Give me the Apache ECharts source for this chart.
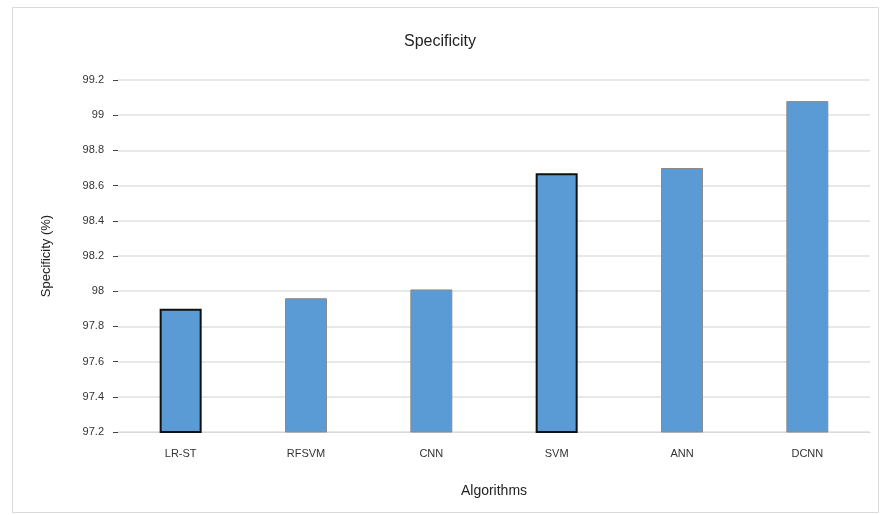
<!DOCTYPE html>
<html>
<head>
<meta charset="utf-8">
<script src="https://cdn.jsdelivr.net/npm/echarts@6/dist/echarts.min.js"></script>
<style>html,body{margin:0;padding:0;background:#fff;}#c{width:880px;height:515px;}</style>
</head>
<body>
<div id="c"></div>
<script>
var categories = ["LR-ST", "RFSVM", "CNN", "SVM", "ANN", "DCNN"];
var specificity = [97.90, 97.96, 98.01, 98.67, 98.70, 99.08];
var yTicks = { min: 97.2, max: 99.2, interval: 0.2 };
var outlined = [true, false, false, true, false, false];

var chart = echarts.init(document.getElementById('c'));
chart.setOption({
  animation: false,
  backgroundColor: '#fff',
  graphic: [{
    type: 'rect', left: 10, top: 5,
    shape: { width: 866, height: 505 },
    style: { fill: 'none', stroke: '#d9d9d9', lineWidth: 1 }
  }],
  title: {
    text: 'Specificity', left: 'center', top: 29,
    textStyle: { fontFamily: 'Liberation Sans', fontSize: 16, fontWeight: 'normal', color: '#222' }
  },
  grid: { left: 118, right: 10, top: 80, bottom: 83, containLabel: false },
  xAxis: {
    type: 'category', data: categories,
    name: 'Algorithms', nameLocation: 'middle', nameGap: 52,
    nameTextStyle: { fontFamily: 'Liberation Sans', fontSize: 14, color: '#222' },
    axisLine: { lineStyle: { color: '#d9d9d9' } },
    axisTick: { show: false },
    axisLabel: { fontFamily: 'Liberation Sans', fontSize: 11, color: '#333', margin: 16 }
  },
  yAxis: {
    type: 'value', min: yTicks.min, max: yTicks.max, interval: yTicks.interval,
    name: 'Specificity (%)', nameLocation: 'middle', nameGap: 65, nameRotate: 90,
    nameTextStyle: { fontFamily: 'Liberation Sans', fontSize: 13, color: '#222' },
    axisLine: { show: false },
    axisTick: { show: true, length: 5, lineStyle: { color: '#444' } },
    axisLabel: {
      fontFamily: 'Liberation Sans', fontSize: 11, color: '#333', margin: 14,
      formatter: function (v) { return String(Math.round(v * 10) / 10); }
    },
    splitLine: { lineStyle: { color: '#e0e0e0', width: 1.5 } }
  },
  series: [{
    type: 'bar', barWidth: 42,
    data: specificity.map(function (v, i) {
      return {
        value: v,
        itemStyle: {
          color: '#5b9bd5',
          borderColor: outlined[i] ? '#111' : '#8a8a8a',
          borderWidth: outlined[i] ? 2 : 1
        }
      };
    })
  }]
});
</script>
</body>
</html>
